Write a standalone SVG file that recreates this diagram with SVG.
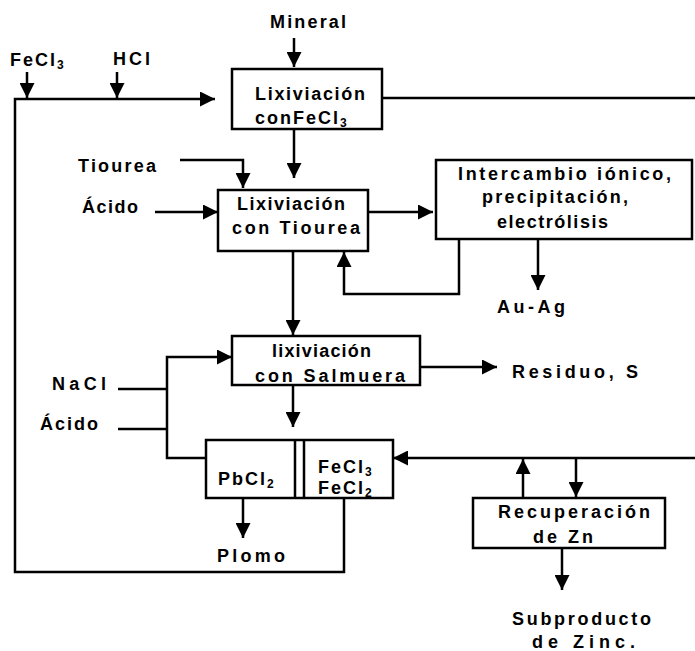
<svg xmlns="http://www.w3.org/2000/svg" width="695" height="651" viewBox="0 0 695 651">
  <style>
    text { font-family: "Liberation Sans", Arial, sans-serif; font-size: 18px; font-weight: bold; letter-spacing: 2px; fill: #000; }
    .sub { font-size: 12px; letter-spacing: 0; }
    .box { fill: #fff; stroke: #000; stroke-width: 2.5; }
    .wire { fill: none; stroke: #000; stroke-width: 2.5; }
    .arrow { marker-end: url(#head); }
  </style>
  <defs>
    <marker id="head" viewBox="0 0 10 10" refX="10" refY="5" markerUnits="userSpaceOnUse" markerWidth="15" markerHeight="15" orient="auto">
      <path d="M0,0 L10,5 L0,10 z" fill="#000"/>
    </marker>
  </defs>
  <rect width="695" height="651" fill="#fff"/>

  <!-- flow lines -->
  <g id="connectors">
    <path class="wire arrow" d="M294,38 V67"/>
    <path class="wire arrow" d="M27,72 V98"/>
    <path class="wire arrow" d="M117,72 V98"/>
    <path class="wire arrow" d="M344,498 V572 H15 V99 H215"/>
    <path class="wire" d="M382,98 H695"/>
    <path class="wire arrow" d="M294,129 V178"/>
    <path class="wire arrow" d="M180,160 H243 V188"/>
    <path class="wire arrow" d="M155,212 H218"/>
    <path class="wire arrow" d="M368,212 H433"/>
    <path class="wire arrow" d="M459,239 V294 H344 V252"/>
    <path class="wire arrow" d="M538,239 V290"/>
    <path class="wire arrow" d="M293,251 V335"/>
    <path class="wire" d="M118,389 H167"/>
    <path class="wire" d="M118,429 H167"/>
    <path class="wire arrow" d="M206,458 H167 V357 H232"/>
    <path class="wire arrow" d="M420,367 H497"/>
    <path class="wire arrow" d="M293,385 V427"/>
    <path class="wire arrow" d="M695,458 H393"/>
    <path class="wire arrow" d="M523,498 V459"/>
    <path class="wire arrow" d="M576,458 V497"/>
    <path class="wire arrow" d="M243,498 V538"/>
    <path class="wire arrow" d="M562,548 V590"/>
  </g>

  <!-- process units -->
  <g id="fecl3-leach">
    <rect class="box" x="232" y="69" width="150" height="60"/>
    <text x="255" y="100" textLength="112" lengthAdjust="spacing">Lixiviación</text>
    <text x="255" y="124">conFeCl<tspan class="sub" dy="3">3</tspan></text>
  </g>
  <g id="thiourea-leach">
    <rect class="box" x="218" y="190" width="150" height="61"/>
    <text x="237" y="210" textLength="110" lengthAdjust="spacing">Lixiviación</text>
    <text x="232" y="234" textLength="130" lengthAdjust="spacing">con Tiourea</text>
  </g>
  <g id="au-ag-recovery">
    <rect class="box" x="436" y="160" width="256" height="79"/>
    <text x="458" y="180" textLength="215" lengthAdjust="spacing">Intercambio iónico,</text>
    <text x="482" y="203" textLength="148" lengthAdjust="spacing">precipitación,</text>
    <text x="497" y="228" textLength="113" lengthAdjust="spacing">electrólisis</text>
  </g>
  <g id="brine-leach">
    <rect class="box" x="232" y="336" width="188" height="49"/>
    <text x="272" y="357" textLength="101" lengthAdjust="spacing">lixiviación</text>
    <text x="255" y="382" textLength="152" lengthAdjust="spacing">con Salmuera</text>
  </g>
  <g id="separation">
    <rect class="box" x="206" y="440" width="187" height="58"/>
    <path class="wire" d="M295,440 V498 M304,440 V498"/>
    <text x="218" y="485">PbCl<tspan class="sub" dy="3">2</tspan></text>
    <text x="318" y="473">FeCl<tspan class="sub" dy="3">3</tspan></text>
    <text x="318" y="494">FeCl<tspan class="sub" dy="3">2</tspan></text>
  </g>
  <g id="zn-recovery">
    <rect class="box" x="473" y="498" width="192" height="50"/>
    <text x="498" y="518" textLength="154" lengthAdjust="spacing">Recuperación</text>
    <text x="533" y="543" textLength="62" lengthAdjust="spacing">de Zn</text>
  </g>

  <!-- feeds and products -->
  <g id="labels">
    <text x="270" y="28" textLength="78" lengthAdjust="spacing">Mineral</text>
    <text x="10" y="66">FeCl<tspan class="sub" dy="3">3</tspan></text>
    <text x="113" y="65" textLength="39" lengthAdjust="spacing">HCl</text>
    <text x="78" y="172" textLength="80" lengthAdjust="spacing">Tiourea</text>
    <text x="82" y="213" textLength="58" lengthAdjust="spacing">Ácido</text>
    <text x="497" y="313" textLength="70" lengthAdjust="spacing">Au-Ag</text>
    <text x="512" y="378" textLength="128" lengthAdjust="spacing">Residuo, S</text>
    <text x="52" y="390" textLength="56" lengthAdjust="spacing">NaCl</text>
    <text x="40" y="430" textLength="60" lengthAdjust="spacing">Ácido</text>
    <text x="217" y="562" textLength="70" lengthAdjust="spacing">Plomo</text>
    <text x="512" y="625" textLength="141" lengthAdjust="spacing">Subproducto</text>
    <text x="532" y="648" textLength="105" lengthAdjust="spacing">de Zinc.</text>
  </g>
</svg>
